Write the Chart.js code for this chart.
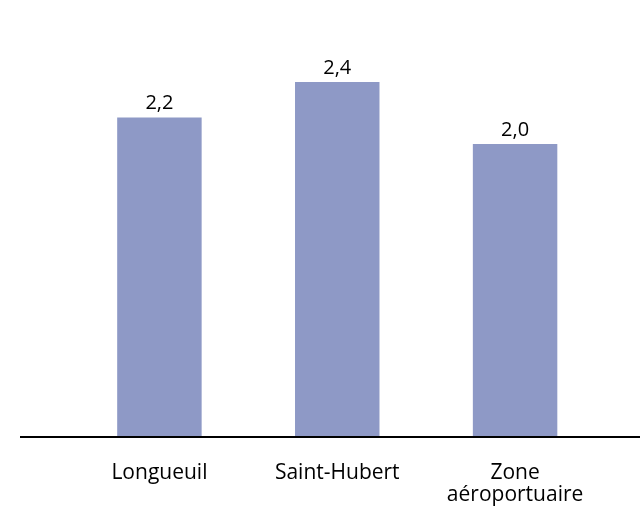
<!DOCTYPE html>
<html>
<head>
<meta charset="utf-8">
<script src="https://cdn.jsdelivr.net/npm/chart.js@4/dist/chart.umd.min.js"></script>
<style>
  html, body { margin: 0; padding: 0; background: #fff; }
  #wrap { width: 640px; height: 508px; position: relative; }
</style>
</head>
<body>
<div id="wrap"><canvas id="mainChart"></canvas></div>
<script>
// données
const categories = [['Longueuil'], ['Saint-Hubert'], ['Zone', 'aéroportuaire']];
const valeurs = [2.16, 2.40, 1.98];
const yMin = 0;
const yMax = 2.8;

const barColor = '#8e99c6';
const fontFamily = '"Open Sans", "Noto Sans", sans-serif';

// étiquettes au-dessus des barres
const valueLabels = {
  id: 'valueLabels',
  afterDatasetsDraw(chart) {
    const ctx = chart.ctx;
    const meta = chart.getDatasetMeta(0);
    ctx.save();
    ctx.font = '20px ' + fontFamily;
    ctx.fillStyle = '#000';
    ctx.textAlign = 'center';
    ctx.textBaseline = 'alphabetic';
    meta.data.forEach((bar, i) => {
      const txt = valeurs[i].toFixed(1).replace('.', ',');
      ctx.fillText(txt, bar.x, bar.y - 8);
    });
    ctx.restore();
  }
};

// ligne de base qui dépasse la zone du graphique
const baseLine = {
  id: 'baseLine',
  afterDatasetsDraw(chart) {
    const ctx = chart.ctx;
    const y = chart.scales.y.getPixelForValue(0) + 1;
    ctx.save();
    ctx.strokeStyle = '#000';
    ctx.lineWidth = 2;
    ctx.beginPath();
    ctx.moveTo(20, y);
    ctx.lineTo(chart.width, y);
    ctx.stroke();
    ctx.restore();
  }
};

const ctx = document.getElementById('mainChart').getContext('2d');
new Chart(ctx, {
  type: 'bar',
  data: {
    labels: categories,
    datasets: [{
      data: valeurs,
      backgroundColor: barColor,
      borderWidth: 0,
      categoryPercentage: 1,
      barPercentage: 0.475
    }]
  },
  options: {
    responsive: true,
    maintainAspectRatio: false,
    animation: false,
    devicePixelRatio: 1,
    layout: { padding: { top: 23, left: 70.5, right: 36, bottom: 0 } },
    plugins: {
      legend: { display: false },
      tooltip: { enabled: false }
    },
    scales: {
      x: {
        grid: { display: false, drawTicks: false },
        border: { display: false },
        afterFit(scale) { scale.height = 72; },
        ticks: {
          color: '#000',
          padding: 26,
          maxRotation: 0,
          autoSkip: false,
          font: { family: fontFamily, size: 21, lineHeight: 1.05 }
        }
      },
      y: {
        display: false,
        min: yMin,
        max: yMax
      }
    }
  },
  plugins: [valueLabels, baseLine]
});
</script>
</body>
</html>
